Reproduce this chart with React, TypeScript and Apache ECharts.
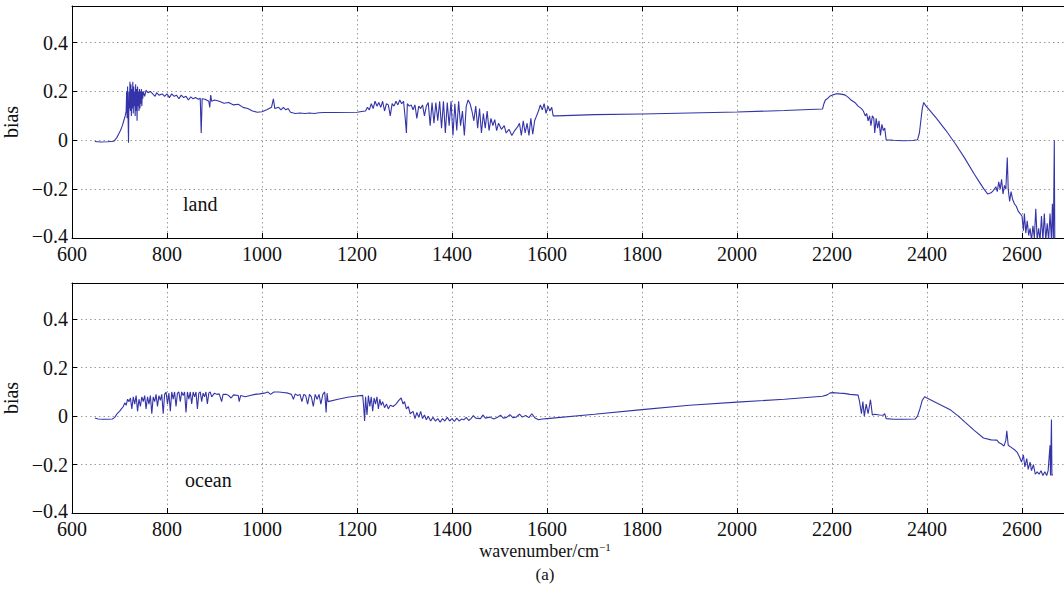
import React, { useEffect, useRef } from "react";
import * as echarts from "echarts";

const xTicks = [600, 800, 1000, 1200, 1400, 1600, 1800, 2000, 2200, 2400, 2600];
const yTicks = [-0.4, -0.2, 0, 0.2, 0.4];
const panelNames = ["land", "ocean"];

const landX = [
  648, 660, 675, 688, 694, 698, 702, 706, 709, 712, 714, 715, 716, 717, 718, 719, 720, 721, 722, 723,
  724, 725, 726, 727, 728, 729, 730, 731, 732, 733, 734, 735, 736, 737, 738, 739, 740, 741, 742, 743,
  744, 745, 746, 747, 748, 749, 750, 753, 756, 760, 765, 770, 775, 778, 783, 790, 795, 800, 805, 810,
  815, 820, 825, 830, 835, 840, 845, 850, 855, 860, 866, 870, 872, 874, 880, 888, 890, 892, 894, 900,
  910, 920, 930, 940, 950, 960, 970, 980, 990, 1000, 1010, 1020, 1024, 1027, 1035, 1040, 1045, 1050, 1055, 1060,
  1070, 1080, 1090, 1100, 1110, 1120, 1130, 1150, 1200, 1210, 1218, 1222, 1226, 1230, 1234, 1238, 1242, 1246, 1250, 1254,
  1258, 1262, 1266, 1270, 1274, 1278, 1282, 1286, 1290, 1294, 1298, 1302, 1304, 1306, 1310, 1314, 1318, 1322, 1326, 1330,
  1334, 1338, 1342, 1346, 1350, 1354, 1358, 1362, 1366, 1370, 1374, 1378, 1382, 1386, 1390, 1394, 1398, 1402, 1406, 1410,
  1414, 1418, 1422, 1426, 1430, 1434, 1438, 1442, 1446, 1450, 1454, 1458, 1462, 1466, 1470, 1474, 1478, 1482, 1486, 1490,
  1494, 1498, 1504, 1510, 1514, 1520, 1526, 1532, 1538, 1542, 1546, 1550, 1554, 1558, 1562, 1566, 1570, 1574, 1578, 1582,
  1586, 1590, 1594, 1598, 1602, 1606, 1610, 1613, 1620, 1700, 1800, 1900, 2000, 2100, 2180, 2183, 2186, 2190, 2195, 2200,
  2208, 2215, 2222, 2228, 2235, 2240, 2248, 2255, 2262, 2266, 2270, 2273, 2276, 2279, 2282, 2285, 2288, 2290, 2293, 2296,
  2299, 2302, 2305, 2308, 2311, 2314, 2330, 2350, 2370, 2380, 2384, 2387, 2390, 2393, 2398, 2405, 2420, 2440, 2460, 2480,
  2500, 2510, 2520, 2528, 2535, 2540, 2545, 2548, 2551, 2554, 2557, 2560, 2563, 2566, 2569, 2571, 2574, 2577, 2580, 2584,
  2588, 2592, 2596, 2600, 2603, 2605, 2608, 2611, 2614, 2617, 2620, 2623, 2626, 2629, 2632, 2635, 2638, 2641, 2644, 2647,
  2650, 2653, 2656, 2659, 2662, 2664, 2666, 2668, 2669,
];
const landY = [
  -0.005, -0.007, -0.006, -0.004, 0.01, 0.025, 0.04, 0.06, 0.08, 0.1, 0.12, 0.2, 0.09, 0.22, 0.1, -0.01, 0.2, 0.13, 0.24, 0.12,
  0.23, 0.1, 0.21, 0.13, 0.24, 0.11, 0.22, 0.14, 0.2, 0.1, 0.23, 0.12, 0.21, 0.08, 0.22, 0.14, 0.2, 0.12, 0.21, 0.13,
  0.2, 0.15, 0.21, 0.14, 0.2, 0.17, 0.2, 0.18, 0.205, 0.195, 0.2, 0.19, 0.18, 0.195, 0.185, 0.19, 0.18, 0.19, 0.175, 0.19,
  0.18, 0.185, 0.17, 0.185, 0.175, 0.18, 0.165, 0.178, 0.17, 0.175, 0.168, 0.172, 0.03, 0.17, 0.168, 0.16, 0.135, 0.185, 0.16, 0.165,
  0.16, 0.152, 0.155, 0.145, 0.148, 0.135, 0.13, 0.12, 0.115, 0.117, 0.125, 0.135, 0.17, 0.13, 0.135, 0.125, 0.135, 0.125, 0.13, 0.115,
  0.11, 0.112, 0.11, 0.112, 0.11, 0.113, 0.114, 0.114, 0.115, 0.118, 0.12, 0.135, 0.125, 0.15, 0.13, 0.16, 0.14, 0.155, 0.135, 0.16,
  0.12, 0.15, 0.145, 0.1, 0.15, 0.14, 0.16, 0.145, 0.165, 0.15, 0.16, 0.08, 0.03, 0.15, 0.14, 0.145, 0.125, 0.145, 0.09, 0.14,
  0.13, 0.145, 0.1, 0.14, 0.155, 0.06, 0.155, 0.07, 0.155, 0.08, 0.16, 0.05, 0.16, 0.03, 0.155, 0.06, 0.16, 0.02, 0.15, 0.04,
  0.16, 0.06, 0.12, 0.02, 0.14, 0.165, 0.15, 0.12, 0.08, 0.14, 0.05, 0.13, 0.03, 0.11, 0.05, 0.12, 0.04, 0.09, 0.06, 0.085,
  0.04, 0.07, 0.045, 0.06, 0.03, 0.045, 0.02, 0.04, 0.055, 0.07, 0.02, 0.08, 0.03, 0.07, 0.02, 0.09, 0.025, 0.08, 0.1, 0.12,
  0.145, 0.125, 0.15, 0.11, 0.14, 0.12, 0.135, 0.1, 0.1, 0.105, 0.108, 0.112, 0.116, 0.122, 0.128, 0.15, 0.165, 0.17, 0.18, 0.185,
  0.19, 0.19, 0.188, 0.185, 0.175, 0.165, 0.155, 0.14, 0.13, 0.12, 0.1, 0.11, 0.08, 0.1, 0.06, 0.1, 0.09, 0.03, 0.09, 0.05,
  0.08, 0.02, 0.065, 0.04, 0.05, 0.002, 0.0, -0.002, -0.001, 0.002, 0.03, 0.08, 0.13, 0.155, 0.14, 0.125, 0.09, 0.04, -0.015, -0.075,
  -0.14, -0.17, -0.2, -0.22, -0.215, -0.205, -0.19, -0.21, -0.17, -0.2, -0.16, -0.22, -0.185, -0.2, -0.07, -0.2, -0.25, -0.21, -0.24, -0.26,
  -0.27, -0.29, -0.3, -0.31, -0.37, -0.3, -0.38, -0.33, -0.39, -0.36, -0.41, -0.35, -0.4, -0.28, -0.41, -0.36, -0.41, -0.31, -0.41, -0.3,
  -0.41, -0.34, -0.41, -0.3, -0.41, -0.26, -0.41, 0.0, -0.41,
];

const oceanX = [
  648, 655, 665, 675, 685, 690, 695, 700, 704, 708, 711, 714, 717, 720, 723, 726, 729, 732, 735, 738,
  741, 744, 747, 750, 753, 756, 759, 762, 765, 768, 771, 774, 777, 780, 783, 786, 789, 792, 795, 798,
  801, 804, 807, 810, 813, 816, 819, 822, 825, 828, 831, 834, 837, 840, 843, 846, 849, 852, 855, 858,
  861, 864, 867, 870, 873, 876, 879, 882, 885, 888, 891, 894, 900, 905, 910, 915, 918, 925, 930, 935,
  940, 950, 952, 955, 965, 975, 985, 995, 1005, 1012, 1018, 1025, 1035, 1045, 1055, 1062, 1066, 1070, 1075, 1080,
  1084, 1088, 1092, 1096, 1100, 1104, 1108, 1112, 1116, 1120, 1124, 1128, 1132, 1135, 1137, 1139, 1160, 1180, 1200, 1212,
  1214, 1216, 1218, 1221, 1224, 1227, 1230, 1233, 1236, 1239, 1242, 1245, 1248, 1251, 1254, 1258, 1262, 1266, 1270, 1276,
  1282, 1288, 1293, 1297, 1300, 1304, 1308, 1312, 1318, 1322, 1326, 1330, 1334, 1338, 1342, 1346, 1350, 1355, 1360, 1365,
  1370, 1375, 1380, 1385, 1390, 1395, 1400, 1405, 1410, 1415, 1420, 1425, 1430, 1435, 1440, 1445, 1450, 1460, 1465, 1470,
  1480, 1488, 1495, 1502, 1508, 1515, 1522, 1528, 1535, 1542, 1548, 1555, 1562, 1568, 1575, 1582, 1590, 1600, 1700, 1800,
  1900, 2000, 2100, 2180, 2190, 2196, 2205, 2215, 2225, 2238, 2250, 2255, 2258, 2262, 2265, 2268, 2272, 2276, 2281, 2285,
  2290, 2300, 2308, 2311, 2314, 2330, 2350, 2375, 2380, 2385, 2390, 2395, 2405, 2430, 2450, 2466, 2480, 2500, 2519, 2535,
  2547, 2552, 2557, 2562, 2566, 2568, 2571, 2578, 2585, 2590, 2595, 2599, 2603, 2606, 2610, 2613, 2617, 2620, 2624, 2628,
  2632, 2636, 2640, 2644, 2648, 2652, 2655, 2659, 2660, 2662, 2663, 2665,
];
const oceanY = [
  -0.008, -0.012, -0.013, -0.013, -0.012, -0.005, 0.01, 0.02, 0.03, 0.04, 0.055, 0.045, 0.07, 0.06, 0.075, 0.03, 0.08, 0.05, 0.085, 0.02,
  0.07, 0.04, 0.08, 0.06, 0.085, 0.03, 0.08, 0.05, 0.085, 0.01, 0.08, 0.06, 0.09, 0.04, 0.085, 0.065, 0.09, 0.01, 0.09, 0.1,
  0.05, 0.095, 0.02, 0.1, 0.07, 0.1, 0.04, 0.095, 0.1, 0.06, 0.1, 0.085, 0.1, 0.015, 0.1, 0.07, 0.1, 0.05, 0.1, 0.08,
  0.1, 0.03, 0.095, 0.1, 0.06, 0.095, 0.08, 0.1, 0.05, 0.095, 0.1, 0.08, 0.095, 0.09, 0.092, 0.06, 0.09, 0.09, 0.085, 0.075,
  0.088, 0.085, 0.06, 0.085, 0.08, 0.085, 0.09, 0.092, 0.095, 0.1, 0.09, 0.1, 0.1, 0.098, 0.095, 0.09, 0.07, 0.092, 0.085, 0.09,
  0.06, 0.09, 0.085, 0.05, 0.09, 0.08, 0.04, 0.09, 0.07, 0.09, 0.05, 0.09, 0.1, 0.015, 0.095, 0.06, 0.07, 0.078, 0.083, 0.086,
  0.04, -0.02, 0.08, 0.005, 0.085, 0.04, 0.08, 0.02, 0.075, 0.05, 0.08, 0.03, 0.07, 0.045, 0.06, 0.035, 0.05, 0.03, 0.045, 0.04,
  0.05, 0.065, 0.075, 0.05, 0.06, 0.03, 0.04, 0.01, 0.02, -0.01, 0.015, -0.005, 0.02, -0.01, 0.005, -0.015, 0.0, -0.02, -0.005, -0.02,
  -0.01, -0.025, -0.01, -0.02, -0.005, -0.02, -0.01, -0.022, -0.008, -0.02, -0.012, -0.015, -0.005, -0.018, -0.01, 0.002, -0.008, -0.01, 0.005, -0.008,
  -0.004, -0.012, -0.006, 0.004, -0.008, -0.005, 0.006, -0.006, -0.004, 0.008, -0.004, 0.003, -0.006, 0.01, -0.008, -0.015, -0.012, -0.01, 0.008, 0.027,
  0.045, 0.058, 0.07, 0.082, 0.088, 0.096, 0.097, 0.095, 0.094, 0.09, 0.088, 0.087, 0.06, 0.01, 0.06, 0.0, 0.05, 0.01, 0.068, 0.005,
  0.008, 0.005, 0.004, 0.01, -0.01, -0.013, -0.013, -0.012, 0.0, 0.03, 0.065, 0.08, 0.07, 0.045, 0.025, 0.0, -0.025, -0.06, -0.09, -0.098,
  -0.099, -0.11, -0.115, -0.124, -0.1, -0.06, -0.12, -0.13, -0.14, -0.15, -0.17, -0.19, -0.16, -0.21, -0.175, -0.22, -0.19, -0.225, -0.2, -0.24,
  -0.23, -0.24, -0.225, -0.245, -0.23, -0.245, -0.225, -0.12, -0.245, -0.014, -0.245, -0.24,
];

const FONT = "Liberation Serif";
const LINE_COLOR = "#3434a8";

function fmtY(v: number): string {
  if (!yTicks.some((t) => Math.abs(t - v) < 1e-9)) return "";
  if (Math.abs(v) < 1e-9) return "0";
  const s = v < 0 ? "\u2212" + (-v).toFixed(1) : v.toFixed(1);
  return Math.abs(v - yTicks[0]) < 1e-9 ? "{lo|" + s + "}" : s;
}
function fmtX(v: number): string {
  return xTicks.includes(Math.round(v)) ? String(Math.round(v)) : "";
}

export default function App() {
  const ref = useRef<HTMLDivElement>(null);
  useEffect(() => {
    if (!ref.current) return;
    const chart = echarts.init(ref.current, undefined, { renderer: "svg" });
    const grids = [
      { left: 72, width: 997.5, top: 6, height: 232, outerBoundsMode: "none", containLabel: false },
      { left: 72, width: 997.5, top: 283, height: 230, outerBoundsMode: "none", containLabel: false },
    ];
    const splitStyle = { show: true, lineStyle: { color: "#9a9a9a", type: [1.5, 3] as any, width: 1 } };
    const tickStyle = { show: true, inside: true, length: 5, lineStyle: { color: "#000", width: 1 } };
    const xAxes: any[] = [];
    const yAxes: any[] = [];
    grids.forEach((_, gi) => {
      xAxes.push({
        type: "value", gridIndex: gi, min: 600, max: 2700, interval: 200, position: "bottom",
        axisLine: { show: true, onZero: false, lineStyle: { color: "#000", width: 1 } },
        axisTick: tickStyle,
        axisLabel: { fontFamily: FONT, fontSize: 20, color: "#111", margin: 6, formatter: fmtX, showMaxLabel: false },
        splitLine: splitStyle,
      });
      xAxes.push({
        type: "value", gridIndex: gi, min: 600, max: 2700, interval: 200, position: "top",
        axisLine: { show: true, onZero: false, lineStyle: { color: "#000", width: 1 } },
        axisTick: tickStyle, axisLabel: { show: false }, splitLine: { show: false },
      });
      yAxes.push({
        type: "value", gridIndex: gi, min: -0.4, max: 0.55, interval: 0.2, position: "left",
        name: "bias", nameLocation: "middle", nameGap: 46, nameRotate: 90,
        nameTextStyle: { fontFamily: FONT, fontSize: 20, color: "#111" },
        axisLine: { show: true, onZero: false, lineStyle: { color: "#000", width: 1 } },
        axisTick: tickStyle,
        axisLabel: {
          fontFamily: FONT, fontSize: 20, color: "#111", margin: 4, formatter: fmtY, showMaxLabel: false,
          rich: { lo: { fontFamily: FONT, fontSize: 20, color: "#111", lineHeight: 16, padding: [0, 0, 5, 0] } },
        },
        splitLine: splitStyle,
      });
      yAxes.push({
        type: "value", gridIndex: gi, min: -0.4, max: 0.55, interval: 0.2, position: "right",
        axisLine: { show: true, onZero: false, lineStyle: { color: "#000", width: 1 } },
        axisTick: tickStyle, axisLabel: { show: false }, splitLine: { show: false },
      });
    });
    const option: any = {
      animation: false,
      backgroundColor: "#fff",
      grid: grids,
      xAxis: xAxes,
      yAxis: yAxes,
      series: [
        {
          type: "line", xAxisIndex: 0, yAxisIndex: 0, showSymbol: false, symbol: "none", clip: true,
          lineStyle: { color: LINE_COLOR, width: 1.1 },
          data: landX.map((x, i) => [x, landY[i]]),
        },
        {
          type: "line", xAxisIndex: 2, yAxisIndex: 2, showSymbol: false, symbol: "none", clip: true,
          lineStyle: { color: LINE_COLOR, width: 1.1 },
          data: oceanX.map((x, i) => [x, oceanY[i]]),
        },
      ],
      graphic: [
        { type: "text", left: 183, top: 194, style: { text: panelNames[0], fontFamily: FONT, fontSize: 20, fill: "#111" } },
        { type: "text", left: 185, top: 470, style: { text: panelNames[1], fontFamily: FONT, fontSize: 20, fill: "#111" } },
        {
          type: "text", x: 545, y: 551,
          style: {
            text: "{a|wavenumber/cm}{b|\u22121}", textAlign: "center", textVerticalAlign: "middle",
            rich: {
              a: { fontFamily: FONT, fontSize: 18, fill: "#111", lineHeight: 20 },
              b: { fontFamily: FONT, fontSize: 11, fill: "#111", verticalAlign: "top", lineHeight: 20 },
            },
          },
        },
        { type: "text", x: 545, y: 574, style: { text: "(a)", textAlign: "center", textVerticalAlign: "middle", fontFamily: FONT, fontSize: 17, fill: "#111" } },
      ],
    };
    chart.setOption(option);
    return () => chart.dispose();
  }, []);
  return (
    <div style={{ position: "absolute", left: 0, top: 0, width: 1064, height: 596, background: "#fff", overflow: "hidden" }}>
      <div ref={ref} style={{ width: 1064, height: 596 }} />
    </div>
  );
}
